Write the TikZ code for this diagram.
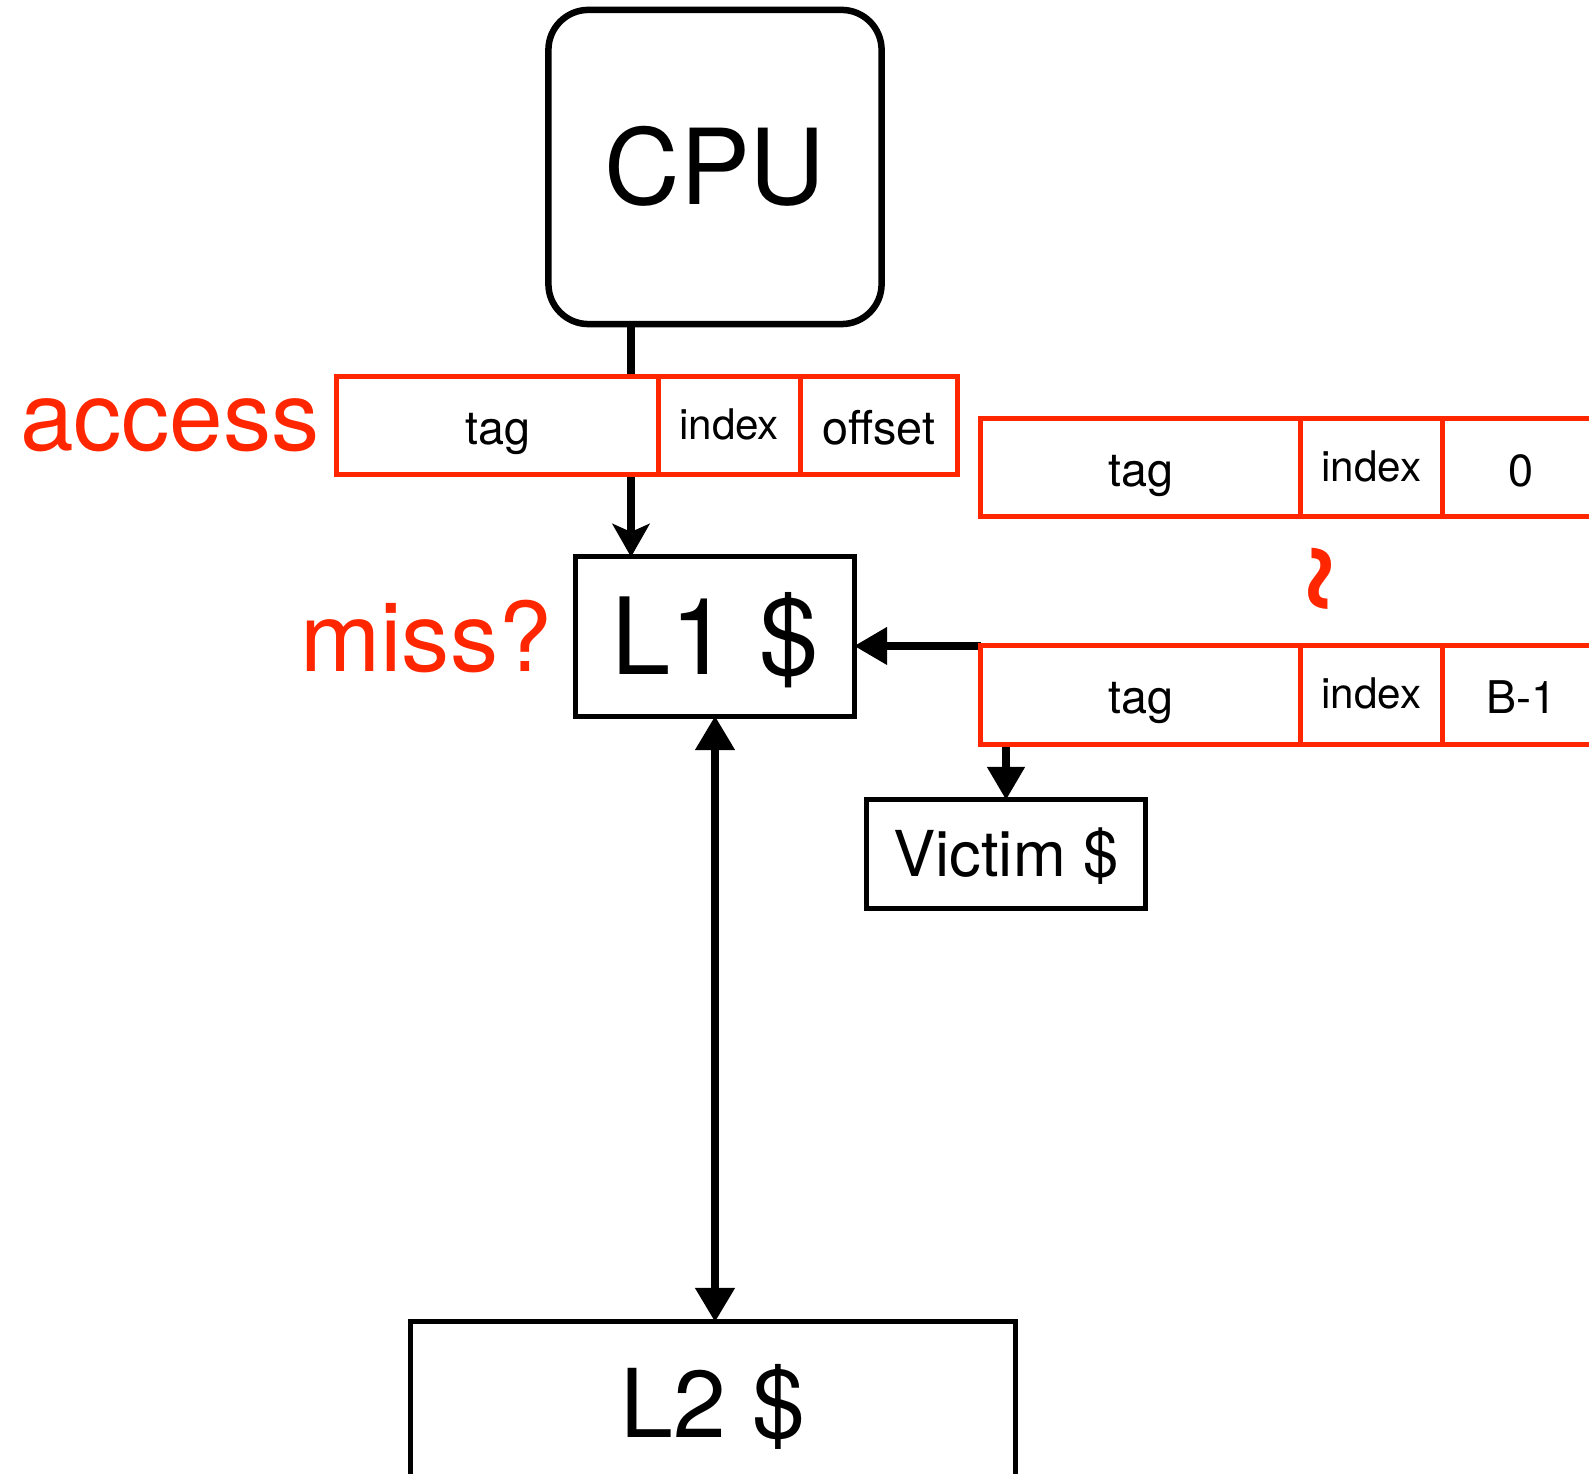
\documentclass[tikz,border=0pt]{standalone}
\usepackage{fontspec}
\setmainfont{TeX Gyre Heros}
\usetikzlibrary{arrows.meta,positioning,backgrounds}

\definecolor{accred}{RGB}{255,38,0}

\tikzset{
  unit/.style={draw, line width=0.05cm, inner sep=0pt, outer sep=0pt, text depth=0pt},
  field/.style={draw=accred, fill=white, line width=0.05cm, inner sep=0pt, outer sep=0pt,
    minimum height=0.98cm, text height=0.37cm, text depth=0pt, font=\fontsize{13.3}{16}\selectfont},
  idx/.style={font=\fontsize{12}{14}\selectfont, text height=0.27cm},
  num/.style={font=\fontsize{12.8}{15}\selectfont},
  note/.style={text=accred, inner sep=0pt, outer sep=0pt, font=\fontsize{27.4}{32}\selectfont},
  link/.style={line width=0.075cm, -{Triangle[length=0.33cm,width=0.36cm]}},
}

\begin{document}
\begin{tikzpicture}[x=0.01cm, y=-0.01cm]
  \useasboundingbox (0,0) rectangle (1589,1474);

  % processor and caches
  \node[unit, line width=0.065cm, rounded corners=0.4cm, minimum width=3.33cm, minimum height=3.14cm,
        text height=0.75cm, font=\fontsize{29.8}{35}\selectfont] (cpu) at (715,167) {CPU};
  \node[unit, minimum width=2.78cm, minimum height=1.59cm, text height=0.76cm,
        font=\fontsize{30.3}{36}\selectfont] (l1) at (715,636.5) {L1 \$};
  \node[unit, minimum width=2.78cm, minimum height=1.08cm, text height=0.455cm,
        font=\fontsize{18}{22}\selectfont] (victim) at (1006,854) {Victim \$};
  \node[unit, minimum width=6.04cm, minimum height=1.63cm, text height=0.68cm,
        font=\fontsize{27}{32}\selectfont] (l2) at (713,1403.5) {L2 \$};

  % address of the access
  \node[field, minimum width=3.21cm] (acc-tag) at (497.5,425.5) {tag};
  \node[field, idx, minimum width=1.42cm, right=0pt of acc-tag] (acc-idx) {index};
  \node[field, minimum width=1.57cm, right=0pt of acc-idx] (acc-off) {offset};
  \node[note, left=0.17cm of acc-tag] (access) {access};
  \node[note, left=0.24cm of l1] (miss) {miss?};

  % block addresses 0 .. B-1
  \node[field, minimum width=3.19cm] (va-tag) at (1140.5,467.5) {tag};
  \node[field, idx, minimum width=1.42cm, right=0pt of va-tag] (va-idx) {index};
  \node[field, num, minimum width=1.58cm, right=0pt of va-idx] (va-off) {0};

  \node[note, rotate=90, font=\bfseries\fontsize{38}{44}\selectfont] (gap) at (1329,578) {\textasciitilde};

  \node[field, minimum width=3.19cm] (vb-tag) at (1140.5,695) {tag};
  \node[field, idx, minimum width=1.42cm, right=0pt of vb-tag] (vb-idx) {index};
  \node[field, num, minimum width=1.58cm, right=0pt of vb-idx] (vb-off) {B-1};

  \coordinate (tap) at (631,0);

  \begin{pgfonlayer}{background}
    \draw[line width=0.075cm, -{Stealth[length=0.33cm,width=0.37cm,inset=0.08cm]}]
      (cpu.south -| tap) -- (l1.north -| tap);
    \draw[link] (vb-tag.north west) -- (vb-tag.north west -| l1.east);
    \draw[link] (victim.north |- vb-tag.south) -- (victim.north);
    \draw[line width=0.075cm, {Triangle[length=0.34cm,width=0.38cm]}-{Triangle[length=0.34cm,width=0.38cm]}]
      (l1.south) -- (l1.south |- l2.north);
  \end{pgfonlayer}
\end{tikzpicture}
\end{document}
